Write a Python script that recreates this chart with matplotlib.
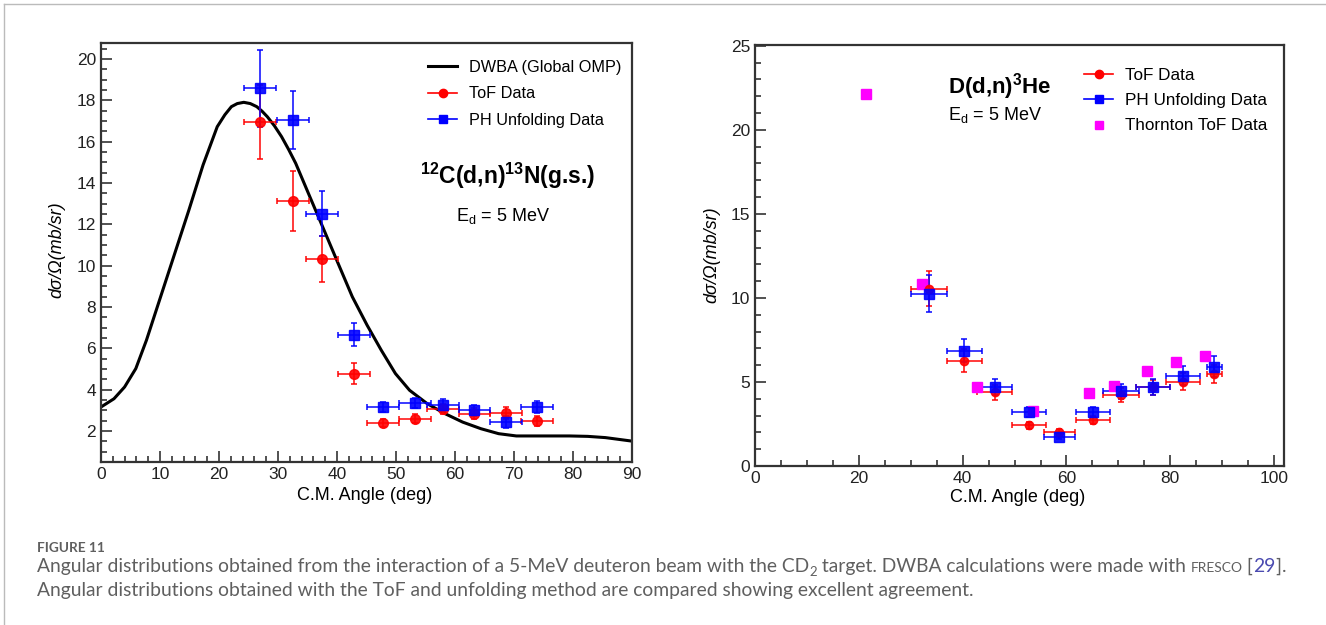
import matplotlib
matplotlib.use("Agg")
import matplotlib.pyplot as plt
from matplotlib.lines import Line2D
from matplotlib.ticker import MultipleLocator

W, H = 1326, 625
plt.rcParams['font.family'] = ['Liberation Sans', 'DejaVu Sans']
plt.rcParams['mathtext.fontset'] = 'custom'
plt.rcParams['mathtext.rm'] = 'Liberation Sans'
plt.rcParams['mathtext.bf'] = 'Liberation Sans:bold'

# ---- left panel: 12C(d,n)13N(g.s.) ----
dwba_x = [0, 2.2, 4.0, 5.9, 7.7, 10.1, 12.5, 14.9, 17.3, 19.7, 21.0, 22.1, 23.1,
          24.2, 25.3, 26.4, 27.3, 28.2, 29.4, 30.6, 31.8, 33.0, 35.4, 37.8, 40.2,
          42.6, 45.1, 47.5, 49.9, 52.3, 55.3, 58.3, 61.3, 64.4, 67.4, 70.4, 76.4,
          79.4, 82.5, 85.5, 90]
dwba_y = [3.16, 3.56, 4.13, 5.02, 6.39, 8.49, 10.59, 12.69, 14.87, 16.72, 17.3,
          17.69, 17.84, 17.9, 17.84, 17.69, 17.47, 17.2, 16.76, 16.24, 15.62, 14.95,
          13.33, 11.72, 10.1, 8.49, 7.12, 5.91, 4.78, 3.97, 3.32, 2.84, 2.43, 2.11,
          1.87, 1.76, 1.76, 1.76, 1.74, 1.68, 1.51]

c_angle = [27.0, 32.5, 37.4, 42.9, 47.8, 53.2, 57.9, 63.3, 68.6, 73.9]
c_xerr = [2.7] * 10
c_tof = [16.96, 13.12, 10.31, 4.78, 2.39, 2.6, 3.08, 2.84, 2.87, 2.47]
c_tof_err = [1.8, 1.45, 1.1, 0.53, 0.2, 0.22, 0.25, 0.25, 0.3, 0.25]
c_ph = [18.58, 17.05, 12.51, 6.66, 3.16, 3.35, 3.27, 3.0, 2.43, 3.16]
c_ph_err = [1.86, 1.42, 1.1, 0.55, 0.25, 0.25, 0.3, 0.28, 0.3, 0.28]

# ---- right panel: D(d,n)3He ----
d_angle = [33.5, 40.3, 46.2, 52.8, 58.6, 65.1, 70.5, 76.6, 82.5, 88.5]
d_xerr = [3.4, 3.4, 3.4, 3.3, 3.0, 3.3, 3.4, 3.3, 3.3, 1.4]
d_tof = [10.56, 6.27, 4.38, 2.43, 2.03, 2.73, 4.22, 4.68, 5.02, 5.48]
d_tof_err = [1.05, 0.7, 0.45, 0.2, 0.15, 0.25, 0.42, 0.45, 0.5, 0.55]
d_ph = [10.26, 6.87, 4.72, 3.19, 1.73, 3.19, 4.44, 4.68, 5.38, 5.92]
d_ph_err = [1.1, 0.7, 0.48, 0.3, 0.15, 0.3, 0.45, 0.48, 0.55, 0.6]
thornton_x = [21.4, 32.1, 42.8, 53.5, 64.3, 69.1, 75.5, 81.0, 86.6]
thornton_y = [22.15, 10.82, 4.68, 3.29, 4.32, 4.78, 5.68, 6.18, 6.57]

RED = '#ff0000'
BLUE = '#0000ff'
MAG = '#ff00ff'


def frac(x, y):
    return x / W, 1 - y / H


def box(x0, y0, x1, y1):
    return [x0 / W, 1 - y1 / H, (x1 - x0) / W, (y1 - y0) / H]


def root_style(ax):
    for s in ax.spines.values():
        s.set_linewidth(1.6)
        s.set_color('#333333')
    ax.tick_params(which='both', direction='in', top=False, right=False,
                   color='#333333', width=1.2, labelsize=12.5, labelcolor='#222222')
    ax.tick_params(which='major', length=8)
    ax.tick_params(which='minor', length=4.5)


fig = plt.figure(figsize=(W / 100, H / 100), dpi=100)

# thin outer frame lines
fig.add_artist(Line2D([4 / W, 1], [1 - 4 / H, 1 - 4 / H], color='#bbbbbb', lw=1))
fig.add_artist(Line2D([4 / W, 4 / W], [0, 1 - 4 / H], color='#bbbbbb', lw=1))

# left
ax1 = fig.add_axes(box(101, 43, 632, 462))
ax1.plot(dwba_x, dwba_y, color='black', lw=2.2, solid_joinstyle='round')
ax1.errorbar(c_angle, c_tof, xerr=c_xerr, yerr=c_tof_err, fmt='o', color=RED,
             ms=7, ecolor=RED, elinewidth=1.2, capsize=2.5, capthick=1.2, alpha=0.9)
ax1.errorbar(c_angle, c_ph, xerr=c_xerr, yerr=c_ph_err, fmt='s', color=BLUE,
             ms=7.5, ecolor=BLUE, elinewidth=1.2, capsize=2.5, capthick=1.2, alpha=0.9)
ax1.set_xlim(0, 90)
ax1.set_ylim(0.5, 20.77)
ax1.xaxis.set_major_locator(MultipleLocator(10))
ax1.xaxis.set_minor_locator(MultipleLocator(2))
ax1.yaxis.set_major_locator(MultipleLocator(2))
ax1.yaxis.set_minor_locator(MultipleLocator(0.5))
root_style(ax1)
ax1.set_yticks([2, 4, 6, 8, 10, 12, 14, 16, 18, 20])

h1 = [Line2D([], [], color='black', lw=2.2),
      Line2D([], [], color=RED, lw=1.2, marker='o', ms=6),
      Line2D([], [], color=BLUE, lw=1.2, marker='s', ms=6)]
fig.legend(h1, ['DWBA (Global OMP)', 'ToF Data', 'PH Unfolding Data'],
           loc='upper left', bbox_to_anchor=frac(428, 60), frameon=False,
           fontsize=11.7, handlelength=1.8, handletextpad=0.7, labelspacing=0.7,
           borderpad=0, borderaxespad=0)
fig.text(*frac(508, 176), r'$^{\mathbf{12}}$C(d,n)$^{\mathbf{13}}$N(g.s.)',
         fontsize=16.5, fontweight='bold', ha='center', va='center')
fig.text(*frac(503, 216), r'E$_{\rm d}$ = 5 MeV', fontsize=13, ha='center', va='center')
fig.text(*frac(365, 495), 'C.M. Angle (deg)', fontsize=13, ha='center', va='center')
fig.text(*frac(57, 250), 'dσ/Ω(mb/sr)', fontsize=13, style='italic', rotation=90,
         ha='center', va='center')

# right
ax2 = fig.add_axes(box(755, 45, 1284, 466))
ax2.errorbar(d_angle, d_tof, xerr=d_xerr, yerr=d_tof_err, fmt='o', color=RED,
             ms=6, ecolor=RED, elinewidth=1.2, capsize=2.5, capthick=1.2, alpha=0.9)
ax2.errorbar(d_angle, d_ph, xerr=d_xerr, yerr=d_ph_err, fmt='s', color=BLUE,
             ms=6.5, ecolor=BLUE, elinewidth=1.2, capsize=2.5, capthick=1.2, alpha=0.9)
ax2.plot(thornton_x, thornton_y, 's', color=MAG, ms=6.5, ls='none')
ax2.set_xlim(0, 101.9)
ax2.set_ylim(0, 25.05)
ax2.xaxis.set_major_locator(MultipleLocator(20))
ax2.xaxis.set_minor_locator(MultipleLocator(5))
ax2.yaxis.set_major_locator(MultipleLocator(5))
ax2.yaxis.set_minor_locator(MultipleLocator(1))
root_style(ax2)
ax2.set_xticks([0, 20, 40, 60, 80, 100])

h2 = [Line2D([], [], color=RED, lw=1.2, marker='o', ms=6),
      Line2D([], [], color=BLUE, lw=1.2, marker='s', ms=6),
      Line2D([], [], color=MAG, ls='none', marker='s', ms=6)]
fig.legend(h2, ['ToF Data', 'PH Unfolding Data', 'Thornton ToF Data'],
           loc='upper left', bbox_to_anchor=frac(1084, 68), frameon=False,
           fontsize=12.3, handlelength=1.7, handletextpad=0.7, labelspacing=0.6,
           borderpad=0, borderaxespad=0)
fig.text(*frac(1000, 87), r'D(d,n)$^{\mathbf{3}}$He', fontsize=16, fontweight='bold',
         ha='center', va='center')
fig.text(*frac(995, 115), r'E$_{\rm d}$ = 5 MeV', fontsize=13, ha='center', va='center')
fig.text(*frac(1018, 497), 'C.M. Angle (deg)', fontsize=13, ha='center', va='center')
fig.text(*frac(712, 255), 'dσ/Ω(mb/sr)', fontsize=13, style='italic', rotation=90,
         ha='center', va='center')

# caption
GREY = '#5f5f5f'
cap = dict(family=['Lato', 'DejaVu Sans'], color=GREY, va='baseline')
fig.text(*frac(37, 552), 'FIGURE 11', fontsize=9.8, fontweight='bold', **cap)

renderer = fig.canvas.get_renderer()


def run(x, y, pieces):
    for s, kw in pieces:
        opts = dict(cap)
        opts.update(kw)
        dy = opts.pop('dy', 0)
        t = fig.text(*frac(x, y + dy), s, **opts)
        x += t.get_window_extent(renderer).width


run(37, 572, [
    ('Angular distributions obtained from the interaction of a 5-MeV deuteron beam '
     'with the CD', dict(fontsize=13.9)),
    ('2', dict(fontsize=9.5, dy=4)),
    (' target. DWBA calculations were made with ', dict(fontsize=13.9)),
    ('FRESCO', dict(fontsize=10)),
    (' [', dict(fontsize=13.9)),
    ('29', dict(fontsize=13.9, color='#4a4ab0')),
    (']. ', dict(fontsize=13.9)),
])
run(37, 596, [
    ('Angular distributions obtained with the ToF and unfolding method are '
     'compared showing excellent agreement.', dict(fontsize=13.9)),
])

fig.savefig('out.png', dpi=100)
